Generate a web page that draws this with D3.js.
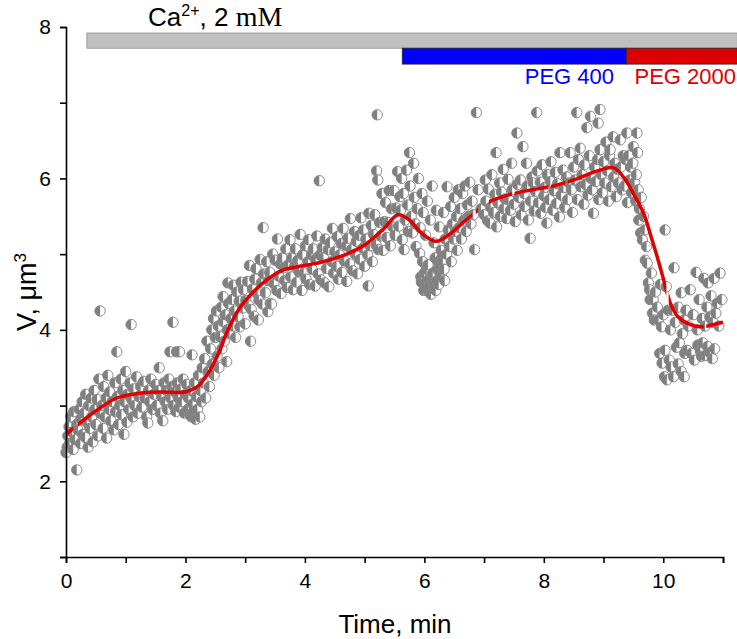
<!DOCTYPE html>
<html><head><meta charset="utf-8">
<script src="https://cdn.jsdelivr.net/npm/d3@7"></script>
<style>body{margin:0;background:#fff}svg{display:block}text{font-family:"Liberation Sans",Arial,sans-serif}</style>
</head><body>
<svg id="chart" width="737" height="639"></svg>
<script>
// ---- data (time in min, volume in µm³) ----
const pointsCalcium = [
[0.0,2.38],[0.02,2.45],[0.03,2.6],[0.05,2.72],[0.06,2.5],[0.08,2.85],[0.1,2.65],[0.12,2.42],[0.13,2.92],[0.15,2.55],[0.18,2.15],[0.18,2.75],[0.2,2.68],[0.22,2.95],[0.24,2.5],[0.25,2.82],[0.27,3.05],[0.28,2.62],[0.3,2.9],[0.32,2.58],[0.33,3.15],[0.35,2.78],[0.37,2.45],[0.38,3.0],[0.4,2.7],[0.42,3.1],[0.43,2.85],[0.45,2.52],[0.47,3.2],[0.48,2.95],[0.5,2.75],[0.52,3.08],[0.53,2.6],[0.55,3.35],[0.57,4.25],[0.57,2.9],[0.6,3.0],[0.62,2.7],[0.63,3.25],[0.65,2.85],[0.67,3.1],[0.68,2.57],[0.7,3.4],[0.72,2.95],[0.73,3.18],[0.75,2.8],[0.77,3.05],[0.8,2.68],[0.82,3.3],[0.83,2.92],[0.85,3.71],[0.86,3.12],[0.88,2.75],[0.9,3.0],[0.92,3.35],[0.93,2.88],[0.95,3.2],[0.97,2.62],[0.98,3.05],[1.0,3.45],[1.02,2.78],[1.03,3.15],[1.05,2.95],[1.07,3.3],[1.09,4.07],[1.1,3.08],[1.12,2.85],[1.13,3.22],[1.15,3.0],[1.18,3.38],[1.2,2.9],[1.22,3.12],[1.25,3.25],[1.27,2.98],[1.3,3.32],[1.32,3.1],[1.35,2.85],[1.37,2.77],[1.38,3.2],[1.4,3.05],[1.42,3.35],[1.45,2.95],[1.47,3.15],[1.5,3.28],[1.52,3.0],[1.55,3.2],[1.56,3.5],[1.58,2.9],[1.6,3.12],[1.62,2.8],[1.64,3.3],[1.66,3.05],[1.68,3.2],[1.7,2.95],[1.72,3.35],[1.74,3.71],[1.75,3.1],[1.77,3.25],[1.79,4.1],[1.8,3.0],[1.82,3.18],[1.84,2.92],[1.85,3.71],[1.86,3.3],[1.88,3.1],[1.9,3.71],[1.9,2.98],[1.92,3.22],[1.94,3.05],[1.96,3.35],[1.98,2.9],[2.0,3.15],[2.02,3.28],[2.04,2.95],[2.05,3.1],[2.07,2.88],[2.09,3.2],[2.1,2.85],[2.11,3.67],[2.12,3.02],[2.14,2.92],[2.15,3.3],[2.17,2.82],[2.18,3.12],[2.2,2.95],[2.22,3.4],[2.24,2.85],[2.25,3.2],[2.27,3.05],[2.28,3.5],
[2.3,3.3],[2.32,3.62],[2.34,3.1],[2.36,3.85],[2.38,3.45],[2.4,3.25],[2.42,3.75],[2.44,4.0],[2.45,3.55],[2.47,4.15],[2.48,3.4],[2.5,3.9],[2.52,4.25],[2.53,3.65],[2.55,4.05],[2.56,3.5],[2.58,3.91],[2.6,4.3],[2.61,3.75],[2.63,4.11],[2.63,4.44],[2.65,3.85],[2.67,4.2],[2.69,3.58],[2.7,4.0],[2.71,4.62],[2.72,4.35],[2.74,3.95],[2.76,4.15],[2.78,4.4],[2.8,4.59],[2.8,4.05],[2.82,4.25],[2.84,3.9],[2.86,4.5],[2.88,4.18],
[2.9,4.38],[2.91,4.04],[2.93,4.63],[2.96,4.29],[2.97,4.53],[3.0,4.08],[3.01,4.39],[3.04,4.64],[3.06,4.32],[3.07,4.85],[3.09,3.85],[3.1,4.27],[3.12,4.54],[3.15,4.18],[3.16,4.67],[3.18,4.81],[3.21,4.47],[3.22,4.13],[3.23,4.39],[3.25,4.93],[3.27,4.62],[3.29,4.34],[3.3,5.35],[3.31,4.74],[3.34,4.49],[3.36,4.9],[3.38,4.24],[3.39,4.65],[3.41,4.76],[3.42,4.35],[3.44,4.34],[3.46,5.0],[3.48,4.61],[3.5,4.92],[3.53,4.52],[3.54,5.2],[3.56,4.71],[3.59,4.87],[3.6,4.48],[3.62,4.95],[3.65,4.82],[3.66,4.65],[3.68,5.07],[3.7,4.56],[3.72,4.86],[3.75,5.19],[3.76,4.7],[3.78,4.95],[3.8,4.53],[3.83,4.84],[3.84,5.07],[3.86,4.63],[3.88,4.92],[3.9,4.77],[3.92,5.26],[3.95,4.52],[3.96,4.99],[3.98,4.75],[4.01,5.11],[4.02,4.67],[4.05,4.9],[4.06,5.19],[4.08,4.6],[4.11,4.99],[4.12,4.8],[4.14,5.07],[4.17,4.58],[4.18,4.93],[4.2,5.24],[4.22,4.74],[4.24,5.97],[4.25,4.99],[4.27,4.66],[4.29,5.09],
[4.31,4.95],[4.33,4.62],[4.34,5.2],[4.36,4.81],[4.39,5.06],[4.4,4.57],[4.42,5.15],[4.45,4.9],[4.46,5.34],[4.48,4.75],[4.5,5.03],[4.53,4.84],[4.54,5.23],[4.56,4.67],[4.58,4.99],[4.61,5.14],[4.62,4.76],[4.64,5.34],[4.66,4.91],[4.69,5.11],[4.7,4.64],[4.72,5.21],[4.75,4.87],[4.76,5.47],[4.78,5.06],[4.8,4.78],[4.83,5.3],[4.84,5.0],[4.86,5.17],[4.88,4.74],[4.91,5.25],[4.92,4.93],[4.94,5.48],[4.97,5.08],[4.98,5.32],[5.0,4.84],[5.02,5.2],[5.05,4.99],[5.06,4.58],[5.07,5.54],[5.09,5.11],[5.11,5.38],[5.13,4.9],[5.15,5.26],[5.17,5.52],[5.19,5.12],[5.2,6.1],[5.21,6.84],[5.22,5.98],[5.23,5.06],[5.25,5.42],[5.27,5.24],[5.29,5.8],[5.31,5.05],[5.33,5.43],[5.35,5.68],[5.37,5.22],[5.39,5.42],[5.41,5.84],[5.43,5.11],[5.45,5.6],[5.47,5.36],[5.49,5.84],[5.51,5.25],[5.53,5.61],[5.55,6.09],[5.57,5.37],[5.59,5.76]
];
const pointsPeg400 = [
[5.6,5.58],[5.62,6.0],[5.63,5.19],[5.65,5.8],[5.66,5.06],[5.68,5.45],[5.7,6.11],[5.72,5.65],[5.73,5.3],[5.75,6.34],[5.76,5.9],[5.78,5.5],[5.8,5.28],[5.82,6.2],[5.83,5.75],[5.85,5.4],[5.86,5.1],[5.88,5.6],[5.9,6.0],[5.92,5.01],[5.93,5.35],[5.94,4.7],[5.95,4.63],[5.96,5.8],[5.97,4.9],[5.98,5.55],[5.99,4.52],[6.0,4.75],[6.01,4.62],[6.02,5.25],[6.03,4.57],[6.04,4.8],[6.05,5.7],[6.06,4.86],[6.07,4.66],[6.08,4.5],[6.09,4.58],[6.1,5.45],[6.11,4.47],[6.12,4.7],[6.13,5.9],[6.14,4.75],[6.15,4.57],[6.16,5.15],[6.17,4.62],[6.18,4.95],[6.19,4.52],[6.2,5.58],[6.21,4.65],[6.22,4.8],[6.23,4.9],[6.24,4.6],[6.25,5.36],[6.26,4.75],[6.27,4.85],[6.28,5.05],[6.29,4.7],[6.3,4.97],[6.31,4.9],[6.32,5.55],[6.33,4.8],[6.34,4.65],[6.35,5.2],[6.37,5.0],[6.38,5.89],[6.4,5.32],[6.42,5.1],[6.44,5.63],[6.45,4.9],[6.47,5.4],[6.49,5.2],[6.5,5.75],[6.52,5.3],[6.54,5.5],[6.55,5.05],[6.57,5.85],[6.58,5.35],[6.6,5.6],[6.62,5.2],[6.64,5.8],[6.66,5.45],[6.68,5.9],[6.7,5.3],[6.72,5.65],[6.74,5.5],[6.76,5.95],[6.78,5.4],[6.8,5.7],[6.82,5.52],[6.84,5.06],[6.87,6.87],[6.9,5.85],
[6.95,5.6],[7.0,5.52],[7.02,5.98],[7.03,5.7],[7.06,5.44],[7.07,5.86],[7.1,5.41],[7.11,5.62],[7.13,6.05],[7.16,5.55],[7.18,5.79],[7.2,6.34],[7.21,5.36],[7.23,5.68],[7.26,5.94],[7.27,5.5],[7.29,5.82],[7.32,6.12],[7.33,5.6],[7.35,5.73],[7.38,5.47],[7.4,5.99],[7.41,5.72],[7.44,5.58],[7.46,6.2],[7.47,5.85],[7.5,5.66],[7.52,5.43],[7.55,6.6],[7.56,5.92],[7.58,5.75],[7.61,5.98],[7.62,5.52],[7.65,6.42],[7.67,5.8],[7.68,5.63],[7.71,6.2],[7.72,5.9],[7.74,5.45],[7.77,5.21],[7.78,5.7],[7.8,6.02],[7.82,5.94],[7.84,5.57],[7.86,5.83],[7.88,6.87],[7.89,6.1],[7.91,5.68],[7.94,5.95],[7.95,5.54],[7.97,6.18],[8.0,5.77],[8.01,5.88],[8.03,5.62],[8.05,5.41],[8.06,6.05],[8.09,5.72],[8.11,5.96],[8.12,6.22],[8.15,5.58],[8.17,5.84],[8.19,6.08],[8.21,5.67],[8.23,5.93],[8.26,5.49],[8.27,6.34],[8.29,5.78],[8.32,6.11],[8.33,5.88],[8.35,5.62],[8.38,6.02],[8.4,5.72],[8.42,5.94],[8.44,6.34],[8.46,5.85],[8.48,5.55],[8.5,6.15],[8.52,5.98],[8.55,6.87],[8.56,5.72],[8.58,6.25],[8.61,6.4],[8.62,5.89],[8.64,6.05],[8.67,5.66],[8.68,6.18],[8.7,5.92],[8.72,6.67],[8.74,5.78],[8.76,6.3],[8.78,6.82],[8.79,6.0],[8.81,5.85],[8.83,5.54],[8.85,6.15],[8.87,5.96],[8.9,6.25],[8.91,6.73],[8.92,5.72],[8.94,6.91],[8.94,6.38],[8.96,6.05],[8.98,5.81],[9.0,6.22],[9.02,5.94],[9.04,6.48],[9.06,6.1],[9.08,5.7],[9.1,6.3],[9.11,6.38],[9.13,5.89],[9.16,6.55],[9.17,6.02],[9.19,6.2],[9.21,5.76],[9.23,6.12],[9.25,5.94],[9.28,6.51],[9.29,6.15],[9.31,5.85],[9.33,6.3]
];
const pointsPeg2000 = [
[9.35,5.9],[9.37,6.25],[9.39,6.6],[9.4,5.68],[9.42,6.3],[9.44,5.98],[9.45,6.15],[9.47,5.81],[9.49,6.2],[9.5,6.42],[9.52,5.95],[9.54,5.7],[9.55,6.05],[9.56,6.6],[9.57,6.34],[9.58,5.85],[9.59,5.45],[9.6,5.6],[9.62,5.28],[9.63,5.75],[9.65,5.19],[9.67,5.5],[9.69,5.32],[9.7,4.92],[9.72,5.1],[9.73,4.88],[9.75,4.62],[9.77,4.53],[9.78,4.4],[9.8,4.75],[9.82,4.22],[9.83,4.4],[9.85,4.13],[9.87,4.5],[9.9,4.3],[9.92,4.13],[9.94,3.69],[9.95,4.6],[9.97,4.04],[9.98,3.56],[10.0,4.2],[10.02,3.38],[10.03,5.32],[10.03,3.73],[10.05,4.57],[10.06,3.34],[10.08,4.26],[10.1,3.6],[10.12,4.0],[10.13,3.51],[10.15,4.26],[10.17,3.38],[10.18,4.82],[10.2,4.1],[10.22,3.77],[10.25,3.55],[10.25,4.3],[10.27,3.83],[10.3,3.45],[10.3,4.49],[10.32,3.95],[10.35,3.38],[10.35,4.13],[10.36,3.69],[10.38,4.26],[10.4,3.73],[10.42,4.05],[10.45,4.53],[10.47,3.69],[10.5,4.2],[10.52,3.6],[10.55,4.76],[10.57,4.0],[10.58,3.8],[10.6,4.4],[10.62,3.72],[10.64,3.65],[10.65,4.15],[10.66,3.83],[10.68,4.68],[10.7,3.66],[10.7,4.05],[10.73,4.3],[10.74,3.78],[10.75,4.62],[10.78,3.7],[10.78,4.17],[10.8,4.45],[10.82,3.62],[10.83,4.1],[10.85,4.68],[10.86,3.75],[10.88,4.22],[10.9,4.35],[10.93,4.05],[10.95,4.75],[10.98,4.4]
];
// smoothed fit curve
const fitTimes  = [0,0.25,0.5,0.85,1.2,1.6,2.0,2.2,2.4,2.55,2.7,2.9,3.1,3.3,3.6,4.0,4.3,4.7,5.0,5.3,5.56,5.75,5.95,6.2,6.45,6.65,6.85,7.08,7.4,7.8,8.16,8.5,8.9,9.17,9.35,9.5,9.67,9.8,9.9,10.0,10.12,10.25,10.4,10.62,10.85,11.0];
const fitValues = [2.62,2.78,2.93,3.1,3.16,3.18,3.18,3.25,3.45,3.68,3.98,4.28,4.47,4.62,4.78,4.85,4.9,5.0,5.12,5.32,5.52,5.45,5.28,5.17,5.28,5.42,5.55,5.69,5.78,5.85,5.9,5.98,6.1,6.14,6.0,5.8,5.54,5.22,4.96,4.68,4.35,4.17,4.09,4.04,4.07,4.1];
// time intervals where the fit line is drawn (gaps elsewhere)
const fitVisibleFrom = [0,0.2,6.86,7.08,7.51,8.12,8.4,10.09,10.72];
const fitVisibleTo   = [0.12,6.8,6.9,7.47,8.08,8.36,10.05,10.68,11.0];
// treatment bars
const barLabels = ["Ca", "PEG 400", "PEG 2000"];
const barStart  = [0.35, 5.63, 9.38];
const barEnd    = [11.24, 9.38, 11.24];
const barLow    = [7.72, 7.51, 7.51];
const barHigh   = [7.92, 7.72, 7.72];
const barColors = ["#c0c0c0", "#0000ff", "#dd0000"];
const xTicks = [0,1,2,3,4,5,6,7,8,9,10,11];
const yTicks = [1,2,3,4,5,6,7,8];

// ---- chart ----
const svg = d3.select("#chart");
const x = d3.scaleLinear().domain([0, 11]).range([66, 723]);
const y = d3.scaleLinear().domain([1, 8]).range([557, 27]);

// bars
const bars = barStart.map((s,i)=>({s, e:barEnd[i], lo:barLow[i], hi:barHigh[i], c:barColors[i]}));
svg.append("g").selectAll("rect").data(bars).join("rect")
  .attr("x", d=>x(d.s)).attr("width", d=>x(d.e)-x(d.s))
  .attr("y", d=>y(d.hi)).attr("height", d=>y(d.lo)-y(d.hi))
  .attr("fill", d=>d.c).attr("stroke", (d,i)=> i===0 ? "#8a8a8a" : "#202020").attr("stroke-width", 0.8);

// bar labels
const caT = svg.append("text").attr("x", 148).attr("y", 26).attr("font-size", 26).attr("fill", "#000");
caT.append("tspan").text("Ca");
caT.append("tspan").attr("dy", -10).attr("font-size", 16).text("2+");
caT.append("tspan").attr("dy", 10).text(", 2 ");
caT.append("tspan").attr("font-family", "'Liberation Serif', 'Times New Roman', serif").attr("font-size", 28).text("mM");
svg.append("text").attr("x", 614).attr("y", 84).attr("text-anchor","end").attr("font-size", 22).attr("fill", "#0000ff").text(barLabels[1]);
svg.append("text").attr("x", 736).attr("y", 84).attr("text-anchor","end").attr("font-size", 22).attr("fill", "#dd0000").text(barLabels[2]);

// points (half-filled circle markers)
const allPoints = pointsCalcium.concat(pointsPeg400, pointsPeg2000);
const r = 5.2;
const pg = svg.append("g");
allPoints.forEach(p => {
  const cx = x(p[0]), cy = y(p[1]);
  const g = pg.append("g");
  g.append("circle").attr("cx", cx).attr("cy", cy).attr("r", r).attr("fill", "#fff").attr("stroke", "#808080").attr("stroke-width", 0.9);
  g.append("path").attr("d", `M${cx},${cy-r}A${r},${r} 0 0 0 ${cx},${cy+r}Z`).attr("fill", "#808080");
});

// fit line with gaps
const defs = svg.append("defs");
const clip = defs.append("clipPath").attr("id", "fitclip");
fitVisibleFrom.forEach((f,i) => {
  clip.append("rect").attr("x", x(f)).attr("width", x(fitVisibleTo[i]) - x(f)).attr("y", 0).attr("height", 639);
});
const fitData = fitTimes.map((t,i)=>[t, fitValues[i]]);
svg.append("path").datum(fitData)
  .attr("d", d3.line().x(d=>x(d[0])).y(d=>y(d[1])).curve(d3.curveCatmullRom.alpha(0.5)))
  .attr("fill", "none").attr("stroke", "#e00000").attr("stroke-width", 3.5)
  .attr("clip-path", "url(#fitclip)");

// axes
const xAxis = d3.axisBottom(x).tickValues(xTicks).tickSize(6).tickPadding(10).tickFormat(d => d % 2 === 0 ? d : "");
const yAxis = d3.axisLeft(y).tickValues(yTicks).tickSize(6).tickPadding(9).tickFormat(d => d % 2 === 0 ? d : "");
const gx = svg.append("g").attr("transform", "translate(0,557)").call(xAxis);
const gy = svg.append("g").attr("transform", "translate(66,0)").call(yAxis);
[gx, gy].forEach(g => {
  g.select(".domain").attr("stroke", "#000").attr("stroke-width", 1.6);
  g.selectAll(".tick line").attr("stroke", "#000").attr("stroke-width", 1.6);
  g.selectAll(".tick text").attr("font-size", 21).attr("font-family", "'Liberation Sans', Arial, sans-serif").attr("fill", "#000");
});

// axis titles
svg.append("text").attr("x", 395).attr("y", 633).attr("text-anchor", "middle").attr("font-size", 26).text("Time, min");
const yt = svg.append("text").attr("transform", "translate(36,292) rotate(-90)").attr("text-anchor", "middle").attr("font-size", 27);
yt.append("tspan").text("V, μm");
yt.append("tspan").attr("dy", -10).attr("font-size", 17).text("3");
</script>
</body></html>
